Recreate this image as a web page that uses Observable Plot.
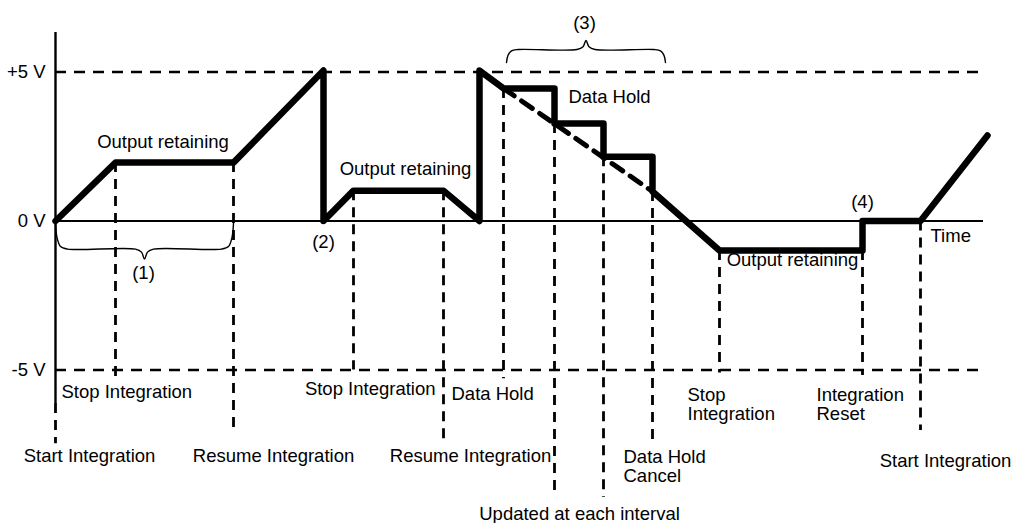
<!DOCTYPE html>
<html><head><meta charset="utf-8">
<script src="https://cdn.jsdelivr.net/npm/d3@7"></script>
<script src="https://cdn.jsdelivr.net/npm/@observablehq/plot@0.6"></script>
<style>body{margin:0;background:#fff}</style>
</head><body><div id="chart"></div>
<script>
// Waveform (time units, volts)
const waveT = [0, 60, 178, 268, 268, 298, 388, 424, 424, 448, 499, 499, 548, 548, 597, 597, 664, 807, 807, 865, 932];
const waveV = [0, 1.96, 1.96, 5.05, 0, 1.02, 1.02, 0, 5.05, 4.45, 4.45, 3.27, 3.27, 2.16, 2.16, 0.99, -0.99, -0.99, 0, 0, 2.87];

// Dashed trend during data hold
const trendT = [448, 597];
const trendV = [4.45, 0.99];

// Event markers (vertical dashed lines)
const markerT      = [0, 60, 178, 298, 388, 448, 499, 548, 597, 664, 807, 865];
const markerTop    = [-6.12, 1.96, 1.96, 1.02, 1.02, 4.45, 3.27, 2.16, 0.99, -0.99, -0.99, 0];
const markerBottom = [-7.47, -5.35, -7.10, -5.0, -7.43, -5.29, -9.28, -9.28, -7.43, -5.1, -5.18, -7.03];

// Reference levels
const refLevels = [5, -5];
const refEnd = 930;
const zeroEnd = 928;
const axisTop = 6.33, axisBottom = -6.12;

// Braces
const braceId    = ["1", "3"];
const braceFrom  = [0, 451];
const braceTo    = [178, 610];
const braceBase  = [-0.07, 5.32];
const braceDir   = [-1, 1];
const braceDepth = [26, 13];
const braceTip   = [36, 22];

// Labels
const labelText = ["+5 V", "0 V", "-5 V", "Output retaining", "Output retaining", "Output retaining", "Data Hold",
  "(1)", "(2)", "(3)", "(4)", "Time", "Stop Integration", "Start Integration", "Resume Integration",
  "Stop Integration", "Resume Integration", "Data Hold", "Data Hold\nCancel", "Stop\nIntegration",
  "Integration\nReset", "Start Integration", "Updated at each interval"];
const labelT = [-10, -10, -10, 107.5, 350, 737, 554, 88, 268, 529, 807, 875, 6, 34, 218, 380, 415, 396, 568, 632, 761, 890, 524];
const labelV = [5, 0, -5, 2.64, 1.76, -1.29, 4.18, -1.73, -0.69, 6.66, 0.65, -0.49, -5.75, -7.87, -7.87, -5.62, -7.87, -5.79, -8.22, -6.14, -6.14, -8.04, -9.82];
const labelAnchor = ["end", "end", "end", "middle", "middle", "middle", "middle", "middle", "middle", "middle", "middle",
  "start", "start", "middle", "middle", "end", "middle", "start", "start", "start", "start", "middle", "middle"];

const pxPerV = 29.8;
const wave = waveT.map((t, i) => ({t, v: waveV[i]}));
const trend = trendT.map((t, i) => ({t, v: trendV[i]}));
const markers = markerT.map((t, i) => ({t, y1: markerTop[i], y2: markerBottom[i]}));

function bracePoints(k) {
  const a = braceFrom[k], b = braceTo[k], m = (a + b) / 2, h = m - a;
  const d = braceDepth[k], tp = braceTip[k], dir = braceDir[k], base = braceBase[k];
  const half = [[0, 0], [1.5, d * 0.55], [5, d * 0.9], [12, d], [h - 9, d], [h - 3, d + (tp - d) * 0.3], [h, tp]];
  const pts = half.map(([dx, dy]) => [a + dx, dy]);
  for (let j = half.length - 2; j >= 0; j--) pts.push([b - half[j][0], half[j][1]]);
  return pts.map(([t, dy]) => ({id: braceId[k], t, v: base + dir * dy / pxPerV}));
}
const braces = braceId.flatMap((_, k) => bracePoints(k));

const idx = labelText.map((_, i) => i);
const font = "Liberation Sans, Arial, sans-serif";
const textMarks = ["start", "middle", "end"].map(a =>
  Plot.text(idx.filter(i => labelAnchor[i] === a), {
    x: i => labelT[i], y: i => labelV[i], text: i => labelText[i],
    textAnchor: a, fontSize: 18.5, lineHeight: 1.03, fill: "black", fontFamily: font
  }));

const chart = Plot.plot({
  width: 1015, height: 523, margin: 0,
  x: {domain: [-55, 960], axis: null},
  y: {domain: [-10.15, 7.4], axis: null},
  style: {fontFamily: font, background: "white"},
  marks: [
    Plot.ruleY(refLevels, {y: d => d, x1: () => 0, x2: () => refEnd, stroke: "black", strokeWidth: 2.6, strokeDasharray: "11,8"}),
    Plot.ruleY([0], {x1: () => 0, x2: () => zeroEnd, stroke: "black", strokeWidth: 2}),
    Plot.ruleX([0], {y1: () => axisBottom, y2: () => axisTop, stroke: "black", strokeWidth: 2.4}),
    Plot.ruleX(markers, {x: "t", y1: "y1", y2: "y2", stroke: "black", strokeWidth: 2.8, strokeDasharray: "10,7"}),
    Plot.line(braces, {x: "t", y: "v", z: "id", curve: "catmull-rom", stroke: "black", strokeWidth: 1.4}),
    Plot.line(trend, {x: "t", y: "v", stroke: "black", strokeWidth: 5, strokeDasharray: "13,9"}),
    Plot.line(wave, {x: "t", y: "v", stroke: "black", strokeWidth: 6.5, strokeLinejoin: "round", strokeLinecap: "round"}),
    ...textMarks
  ]
});
document.getElementById("chart").appendChild(chart);
</script>
</body></html>
